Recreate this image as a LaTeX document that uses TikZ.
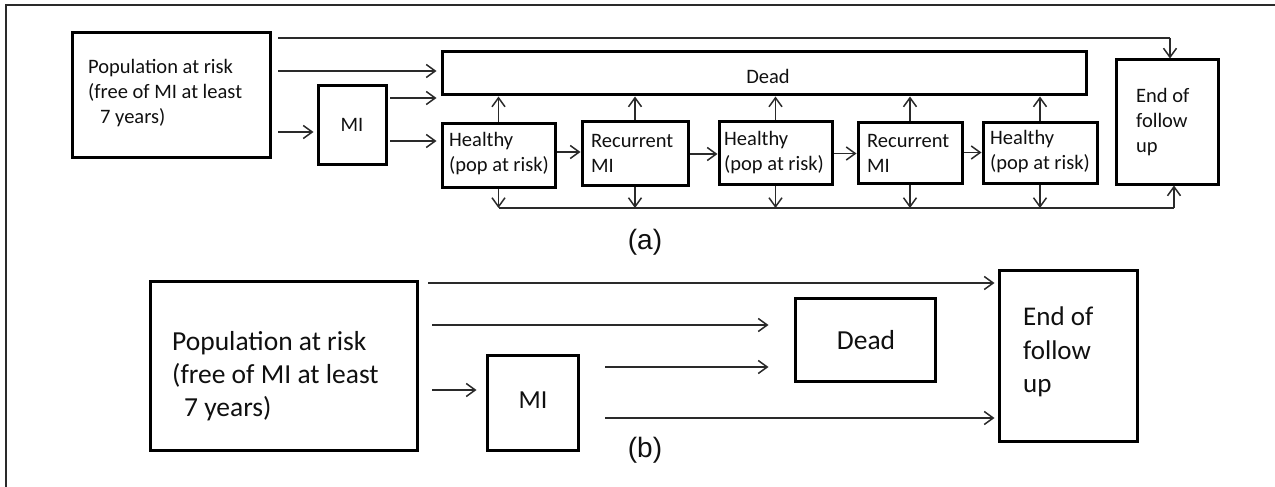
\documentclass[tikz,border=0pt]{standalone}
\usepackage{fontspec}
\setmainfont{Carlito}
\newfontfamily\arialf{Liberation Sans}
\usetikzlibrary{arrows.meta}
\definecolor{linec}{HTML}{2A2A2A}
\definecolor{txtc}{HTML}{101010}
\begin{document}
\begin{tikzpicture}[x=1pt,y=-1pt,
  box/.style={draw=black, line width=3pt, inner sep=0pt},
  arr/.style={draw=linec, line width=1.5pt, -{Straight Barb[length=9pt,width=13pt,line width=1.5pt]}},
  ln/.style={draw=linec, line width=1.5pt},
  ta/.style={font=\fontsize{20.5}{25}\selectfont, align=left, inner sep=0pt, text=txtc},
  tb/.style={font=\fontsize{27.5}{33}\selectfont, align=left, inner sep=0pt, text=txtc},
  tc/.style={font=\fontsize{27}{33.5}\selectfont, align=left, inner sep=0pt, text=txtc},
  lab/.style={font=\arialf\fontsize{28}{30}\selectfont, inner sep=0pt, text=txtc}
]
\useasboundingbox (0,0) rectangle (1275,487);
% frame
\draw[line width=2pt, draw=linec] (1275,5) -- (6,5) -- (6,490);

% ---------------- (a)
\node[box, minimum width=198pt, minimum height=124pt] (popA) at (171,95) {};
\node[ta, anchor=west] (popAt) at (88,93) {Population at risk\\(free of MI at least\\\hspace*{12pt}7 years)};
\node[box, ta, minimum width=68pt, minimum height=78pt] (miA) at (352,125) {MI};
\node[box, minimum width=644pt, minimum height=43pt] (dead) at (764,73.5) {};
\node[ta] (deadt) at (768,76) {Dead};
\node[box, minimum width=113pt, minimum height=64pt] (h1) at (498.5,155) {};
\node[ta, anchor=west] (h1t) at (449,154) {Healthy\\(pop at risk)};
\node[box, minimum width=106pt, minimum height=64pt] (r1) at (635,153) {};
\node[ta, anchor=west] (r1t) at (591,153) {Recurrent\\MI};
\node[box, minimum width=113pt, minimum height=63pt] (h2) at (775.5,152.5) {};
\node[ta, anchor=west] (h2t) at (724,153) {Healthy\\(pop at risk)};
\node[box, minimum width=104pt, minimum height=61pt] (r2) at (910,152.5) {};
\node[ta, anchor=west] (r2t) at (867,153) {Recurrent\\MI};
\node[box, minimum width=114pt, minimum height=61pt] (h3) at (1040,152.5) {};
\node[ta, anchor=west] (h3t) at (990,152) {Healthy\\(pop at risk)};
\node[box, minimum width=102pt, minimum height=124pt] (endA) at (1167,122) {};
\node[ta, anchor=west] (endAt) at (1136,122) {End of\\follow\\up};

\coordinate (a1) at (278,38);
\coordinate (ae) at (1170,38);
\coordinate (a2) at (278,71);
\coordinate (a3) at (278,132);
\coordinate (a4) at (390,98);
\coordinate (a5) at (390,141);
\coordinate (bl) at (499,208);
\coordinate (br) at (1174,208);

\draw[ln] (a1) -- (ae);
\draw[arr] (ae) -- (ae |- endA.north);
\draw[arr, shorten >=4pt] (a2) -- (a2 -| dead.west);
\draw[arr, shorten >=3pt] (a3) -- (a3 -| miA.west);
\draw[arr, shorten >=4pt] (a4) -- (a4 -| dead.west);
\draw[arr, shorten >=4pt] (a5) -- (a5 -| h1.west);
\foreach \n in {h1,r1,h2,r2,h3}{
  \draw[arr] (\n.north) -- (\n.north |- dead.south);
  \draw[arr] (\n.south) -- (\n.south |- bl);
}
\draw[ln] (bl) -- (br);
\draw[arr] (br) -- (br |- endA.south);
\draw[arr] ([yshift=3pt]h1.east) -- ([yshift=3pt]h1.east -| r1.west);
\draw[arr] ([yshift=-1pt]r1.east) -- ([yshift=-1pt]r1.east -| h2.west);
\draw[arr] ([yshift=-1pt]h2.east) -- ([yshift=-1pt]h2.east -| r2.west);
\draw[arr] (r2.east) -- (r2.east -| h3.west);
\node[lab] (la) at (645,242) {(a)};

% ---------------- (b)
\node[box, minimum width=267pt, minimum height=169pt] (popB) at (283.5,365.5) {};
\node[tb, anchor=west] (popBt) at (172,376) {Population at risk\\(free of MI at least\\\hspace*{12pt}7 years)};
\node[box, minimum width=91pt, minimum height=95pt] (miB) at (532.5,402.5) {};
\node[font=\fontsize{26}{30}\selectfont, text=txtc, inner sep=0pt] (miBt) at (533,400) {MI};
\node[box, minimum width=140pt, minimum height=83pt] (deadB) at (865,339.5) {};
\node[font=\fontsize{27.5}{30}\selectfont, text=txtc, inner sep=0pt] (deadBt) at (866,340) {Dead};
\node[box, minimum width=138pt, minimum height=171pt] (endB) at (1068,355.5) {};
\node[tc, anchor=west] (endBt) at (1023,352) {End of\\follow\\up};

\coordinate (b1) at (428,283);
\coordinate (b2) at (432,325);
\coordinate (b3) at (605,367);
\coordinate (b4) at (605,418);
\coordinate (b5) at (432,390);
\draw[arr, shorten >=3pt] (b1) -- (b1 -| endB.west);
\draw[arr, shorten >=25pt] (b2) -- (b2 -| deadB.west);
\draw[arr, shorten >=25pt] (b3) -- (b3 -| deadB.west);
\draw[arr, shorten >=3pt] (b4) -- (b4 -| endB.west);
\draw[arr, shorten >=9pt] (b5) -- (b5 -| miB.west);
\node[lab] (lb) at (645,450) {(b)};
\end{tikzpicture}
\end{document}
